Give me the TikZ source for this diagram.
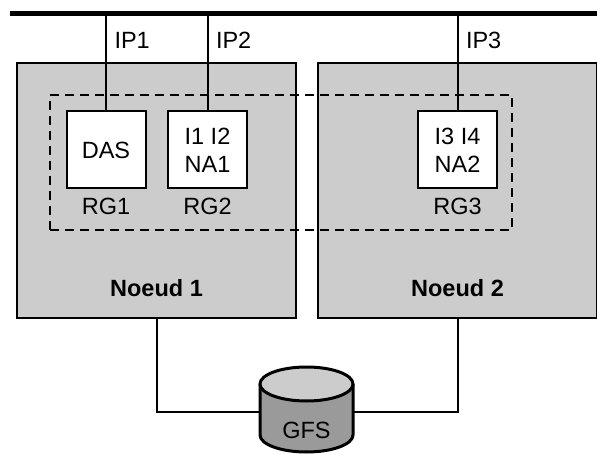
\documentclass[tikz,border=0pt]{standalone}
\usepackage{fontspec}
\setmainfont{Liberation Sans}
\usetikzlibrary{positioning}
\definecolor{nodegray}{HTML}{CCCCCC}
\definecolor{diskgray}{HTML}{9A9A9A}

\begin{document}
\begin{tikzpicture}[x=1pt,y=-1pt,
		% Define styles for nodes
		every node/.style={font=\fontsize{23.5}{28}\selectfont},
		serveur/.style={draw, fill=nodegray, line width=1.2pt, minimum width=279pt, minimum height=255pt},
		titre/.style={font=\fontsize{23.5}{28}\selectfont\bfseries},
		rgbox/.style={draw, fill=white, line width=2pt, minimum width=79pt, minimum height=77pt, align=center},
		zone/.style={draw, line width=2.5pt, dash pattern=on 9pt off 6pt, minimum width=462pt, minimum height=135pt},
		lien/.style={line width=2pt}
	]
	\useasboundingbox (0,0) rectangle (597,454);

	% Cluster nodes
	\node[serveur] (noeud1) at (156.5,190.5) {};
	\node[serveur] (noeud2) at (457.5,190.5) {};
	\node[titre] at ([yshift=30pt]noeud1.south) {Noeud 1};
	\node[titre] at ([yshift=30pt]noeud2.south) {Noeud 2};

	% Resource groups
	\node[zone] (rgzone) at (281,162.5) {};

	% Public network
	\coordinate (busL) at (10,14);
	\coordinate (busR) at (597,14);
	\coordinate (iprow) at (0,40);
	\draw[line width=5pt] (busL) -- (busR);

	\node[rgbox] (das) at (106,150) {DAS};
	\node[rgbox] (rg2) at (207.5,150) {I1 I2\\NA1};
	\node[rgbox] (rg3) at (457.5,150) {I3 I4\\NA2};
	\draw[lien] (das.north) -- (das.north |- busL);
	\draw[lien] (rg2.north) -- (rg2.north |- busL);
	\draw[lien] (rg3.north) -- (rg3.north |- busL);
	\node[anchor=west] (ip1) at ([xshift=5pt]das.north |- iprow) {IP1};
	\node[anchor=west] (ip2) at ([xshift=5pt]rg2.north |- iprow) {IP2};
	\node[anchor=west] (ip3) at ([xshift=5pt]rg3.north |- iprow) {IP3};
	\node[below=5pt of das] {RG1};
	\node[below=5pt of rg2] {RG2};
	\node[below=5pt of rg3] {RG3};

	% Shared disk
	\coordinate (gfsL) at (260,412);
	\coordinate (gfsR) at (353,412);
	\draw[lien] (noeud1.south) |- (gfsL);
	\draw[lien] (noeud2.south) |- (gfsR);
	\filldraw[fill=diskgray, line width=3pt] (260,384) -- (260,435)
		arc[start angle=180, end angle=0, x radius=46.5, y radius=17] -- (353,384);
	\filldraw[fill=nodegray, line width=3pt] (306.5,384) ellipse[x radius=46.5, y radius=17];
	\node (gfs) at (306.5,430) {GFS};
\end{tikzpicture}
\end{document}
